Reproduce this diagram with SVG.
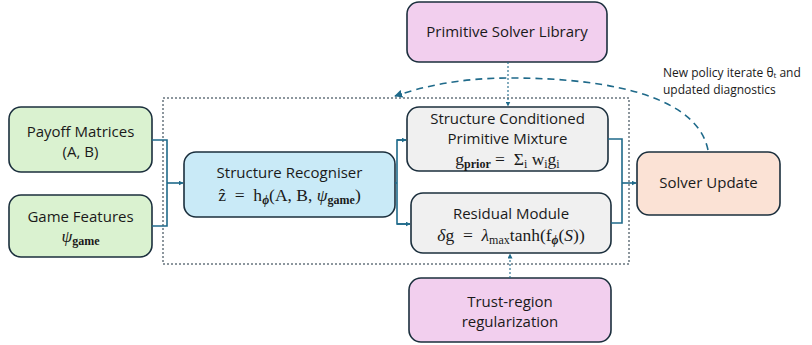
<svg xmlns="http://www.w3.org/2000/svg" width="812" height="345" viewBox="0 0 812 345">
<style>
.box{stroke:#1b2f3d;stroke-width:1.6}
.g{fill:#daf2d0}.b{fill:#c9eaf7}.gr{fill:#f0f0f0}.p{fill:#f2cfee}.o{fill:#fbe2d5}
.t{font-family:"Open Sans","Liberation Sans",sans-serif;font-size:15px;fill:#1a1a1a;text-anchor:middle}
.m{font-family:"Liberation Serif","DejaVu Serif",serif;font-size:17.5px;fill:#1a1a1a;text-anchor:middle;white-space:pre}
.s{font-size:12px}
.c{fill:none;stroke:#1f6a8a;stroke-width:1.6}
.d{fill:none;stroke:#1f6a8a;stroke-width:1.1;stroke-dasharray:2,2}
.lbl{font-family:"Open Sans","Liberation Sans",sans-serif;font-size:12px;fill:#1a1a1a}
</style>
<defs>
<marker id="ah" viewBox="0 0 10 10" refX="9" refY="5" markerWidth="5" markerHeight="5" orient="auto" markerUnits="userSpaceOnUse"><path d="M0,0 L10,5 L0,10 z" fill="#1f6a8a"/></marker>
<marker id="ah2" viewBox="0 0 10 10" refX="9" refY="5" markerWidth="8" markerHeight="8" orient="auto" markerUnits="userSpaceOnUse"><path d="M0,0 L10,5 L0,10 z" fill="#1f6a8a"/></marker>
</defs>

<rect x="163" y="98" width="466" height="166" fill="none" stroke="#1b2f3d" stroke-width="1" stroke-dasharray="2,2"/>

<g id="payoff"><rect class="box g" x="9" y="107" width="143" height="65" rx="12"/>
<text class="t" x="80.5" y="137">Payoff Matrices</text><text class="t" x="80.5" y="157">(A, B)</text></g>

<g id="features"><rect class="box g" x="9" y="195" width="143" height="62" rx="12"/>
<text class="t" x="80.5" y="222">Game Features</text>
<text class="m" x="80.5" y="242"><tspan font-style="italic">ψ</tspan><tspan class="s" dy="3" font-weight="bold">game</tspan></text></g>

<g id="recogniser"><rect class="box b" x="184" y="152" width="211" height="65" rx="12"/>
<text class="t" x="289.5" y="178">Structure Recogniser</text>
<text class="m" x="289.5" y="201">ẑ  =  h<tspan class="s" dy="3" font-weight="bold" font-style="italic">ϕ</tspan><tspan dy="-3">(A, B, </tspan><tspan font-style="italic">ψ</tspan><tspan class="s" dy="3" font-weight="bold">game</tspan><tspan dy="-3">)</tspan></text></g>

<g id="mixture"><rect class="box gr" x="407" y="107" width="201" height="64" rx="12"/>
<text class="t" x="507.5" y="124">Structure Conditioned</text>
<text class="t" x="507.5" y="144">Primitive Mixture</text>
<text class="m" x="507.5" y="165">g<tspan class="s" dy="3" font-weight="bold">prior</tspan><tspan dy="-3"> =  Σ</tspan><tspan class="s" dy="3">i</tspan><tspan dy="-3"> w</tspan><tspan class="s" dy="3">i</tspan><tspan dy="-3">g</tspan><tspan class="s" dy="3">i</tspan></text></g>

<g id="residual"><rect class="box gr" x="411" y="193" width="200" height="60" rx="12"/>
<text class="t" x="511" y="219">Residual Module</text>
<text class="m" x="511" y="241"><tspan font-style="italic">δ</tspan>g  =  <tspan font-style="italic">λ</tspan><tspan class="s" dy="3">max</tspan><tspan dy="-3">tanh(f</tspan><tspan class="s" dy="3" font-weight="bold" font-style="italic">ϕ</tspan><tspan dy="-3">(</tspan><tspan font-style="italic">S</tspan>))</text></g>

<g id="library"><rect class="box p" x="407" y="2" width="200" height="60" rx="12"/>
<text class="t" x="507" y="37">Primitive Solver Library</text></g>

<g id="trust"><rect class="box p" x="409" y="278" width="202" height="64" rx="12"/>
<text class="t" x="510" y="307">Trust-region</text><text class="t" x="510" y="327">regularization</text></g>

<g id="solver"><rect class="box o" x="637" y="152" width="143" height="63" rx="12"/>
<text class="t" x="708.5" y="188">Solver Update</text></g>

<text class="lbl" x="663" y="77">New policy iterate θₜ and</text>
<text class="lbl" x="663" y="94">updated diagnostics</text>

<g id="connectors">
<path class="c" d="M152,140 H167 V226 H152"/>
<path class="c" d="M167,183 H183" marker-end="url(#ah)"/>
<path class="c" d="M395,183 H397"/>
<path class="c" d="M406,140 H397 V224 H410"/>
<path class="c" d="M397,140 H406" marker-end="url(#ah)"/>
<path class="c" d="M397,224 H410" marker-end="url(#ah)"/>
<path class="c" d="M608,139 H622 V223 H611"/>
<path class="c" d="M622,183 H636" marker-end="url(#ah)"/>
<path class="d" d="M508,62 V106" marker-end="url(#ah)"/>
<path class="d" d="M510,278 V254" marker-end="url(#ah)"/>
<path d="M708,150 C698,100 620,78 510,78 C460,78 425,86 395,96" fill="none" stroke="#1f6a8a" stroke-width="1.6" stroke-dasharray="7,5" marker-end="url(#ah2)"/>
</g>
</svg>
